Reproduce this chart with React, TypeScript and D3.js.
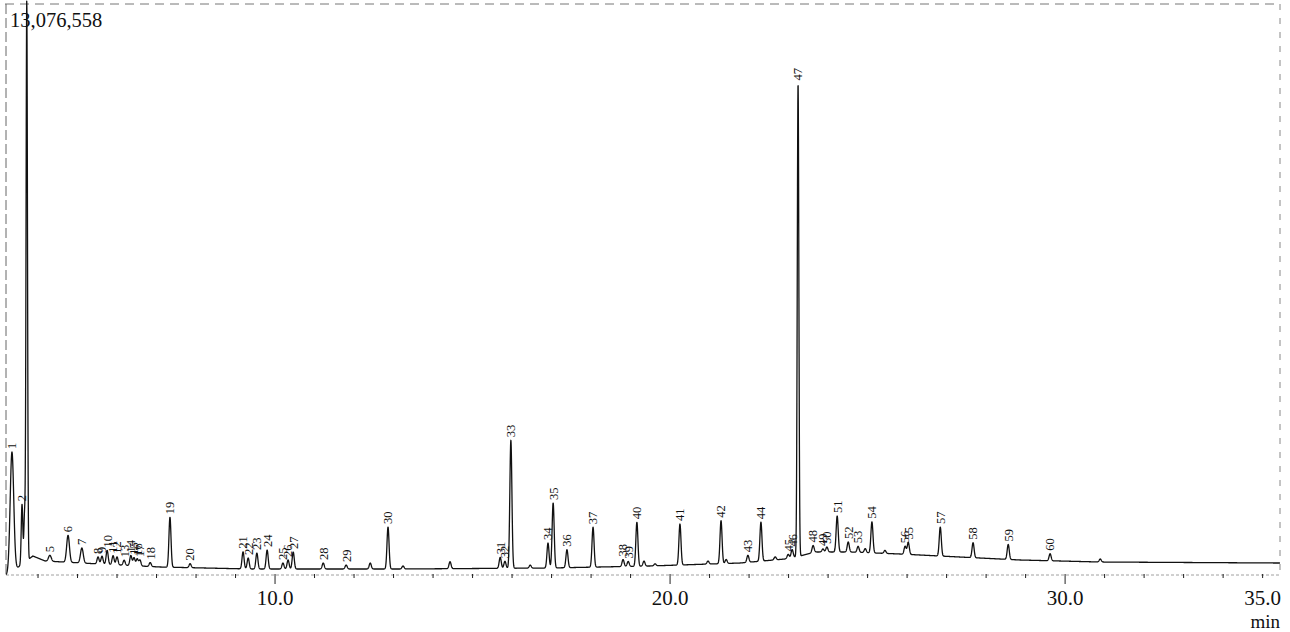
import React, { useEffect, useRef } from 'react';
import * as d3 from 'd3';

// retention time (min), height above baseline (counts)
const peakIds = ['1', '2', '5', '6', '7', '8', '9', '10', '11', '12', '13', '14', '15', '16', '17', '18', '19', '20',
  '21', '22', '23', '24', '25', '26', '27', '28', '29', '30', '31', '32', '33', '34', '35', '36', '37', '38', '39', '40',
  '41', '42', '43', '44', '45', '46', '47', '48', '49', '50', '51', '52', '53', '54', '55', '56', '57', '58', '59', '60'];
const peakTimes = [3.34, 3.595, 4.30, 4.76, 5.11, 5.52, 5.62, 5.75, 5.90, 6.00, 6.18, 6.35, 6.43, 6.51, 6.58, 6.84, 7.34, 7.85,
  9.19, 9.32, 9.54, 9.80, 10.20, 10.33, 10.46, 11.22, 11.80, 12.86, 15.70, 15.82, 15.97, 16.91, 17.04, 17.39, 18.05, 18.81, 18.94, 19.16,
  20.25, 21.29, 21.97, 22.30, 22.99, 23.09, 23.24, 23.62, 23.87, 23.97, 24.23, 24.51, 24.76, 25.11, 26.03, 25.95, 26.84, 27.67, 28.56, 29.62];
const peakHeights = [2743000, 1372000, 137000, 617000, 343000, 160000, 183000, 320000, 206000, 183000, 114000, 229000, 183000, 160000, 137000, 91000, 1143000, 91000,
  389000, 251000, 366000, 434000, 137000, 206000, 389000, 137000, 91000, 960000, 251000, 160000, 2926000, 572000, 1486000, 411000, 914000, 160000, 114000, 1006000,
  937000, 983000, 160000, 892000, 91000, 183000, 10813000, 160000, 69000, 114000, 823000, 229000, 137000, 709000, 274000, 183000, 663000, 343000, 343000, 160000];

// unlabeled peaks (solvent front and small bumps)
const extraTimes = [3.66, 3.715, 12.41, 13.24, 14.43, 16.46, 19.34, 19.62, 20.96, 21.42, 22.66, 24.94, 25.44, 30.89];
const extraHeights = [1097000, 12802000, 137000, 69000, 160000, 69000, 114000, 46000, 69000, 91000, 69000, 91000, 69000, 69000];

// drifting baseline
const baseTimes = [3.19, 3.34, 3.87, 4.18, 5.57, 7.09, 9.37, 13.16, 16.96, 19.49, 21.77, 22.91, 23.29, 23.67, 24.56, 25.82, 27.34, 28.86, 30.89, 35.44];
const baseLevels = [0, 69000, 434000, 320000, 251000, 183000, 137000, 137000, 160000, 206000, 274000, 366000, 434000, 526000, 526000, 480000, 411000, 343000, 297000, 274000];

const tickLabels = ['10.0', '20.0', '30.0', '35.0'];
const fullScale = '13,076,558';

const width = (t) => {
  if (t < 3.5) return 0.045;
  if (t < 3.64) return 0.02;
  if (t < 3.9) return 0.018;
  if (t < 5.3) return 0.035;
  if (t > 23.2 && t < 23.3) return 0.02;
  return 0.026;
};

const App = () => {
  const svgRef = useRef();

  useEffect(() => {
    const svg = d3.select(svgRef.current);
    svg.selectAll('*').remove();

    const x = d3.scaleLinear().domain([3.24, 35.44]).range([8, 1280]);
    const y = d3.scaleLinear().domain([0, 13076558]).range([575, 3]);
    const baseline = d3.scaleLinear().domain(baseTimes).range(baseLevels).clamp(true);

    const peaks = peakTimes.map((t, i) => ({ t, h: peakHeights[i], id: peakIds[i] }))
      .concat(extraTimes.map((t, i) => ({ t, h: extraHeights[i], id: '' })));

    const signal = (t) => {
      let v = baseline(t);
      peaks.forEach(p => {
        const s = width(p.t);
        const d = (t - p.t) / s;
        if (Math.abs(d) < 8) v += p.h * Math.exp(-0.5 * d * d);
      });
      return v;
    };

    const pts = d3.range(3.19, 35.44, 0.004).map(t => [t, signal(t)]);

    svg.append('defs').append('clipPath').attr('id', 'plotclip')
      .append('rect').attr('x', 0).attr('y', 0).attr('width', 1290).attr('height', 580);

    // frame (scanned, dashed)
    svg.append('line').attr('x1', 5).attr('x2', 1280).attr('y1', 4).attr('y2', 4)
      .attr('stroke', '#777').attr('stroke-width', 1).attr('stroke-dasharray', '9,6');
    svg.append('line').attr('x1', 6).attr('x2', 6).attr('y1', 4).attr('y2', 577)
      .attr('stroke', '#666').attr('stroke-width', 1).attr('stroke-dasharray', '10,4');
    svg.append('line').attr('x1', 1280).attr('x2', 1280).attr('y1', 4).attr('y2', 575)
      .attr('stroke', '#888').attr('stroke-width', 1).attr('stroke-dasharray', '6,8');

    // x axis
    svg.append('line').attr('x1', 6).attr('x2', 1280).attr('y1', 575).attr('y2', 575)
      .attr('stroke', '#888').attr('stroke-width', 0.8).attr('stroke-dasharray', '3,2');
    const minor = d3.range(4, 36, 1);
    svg.append('g').selectAll('line').data(minor).join('line')
      .attr('x1', d => x(d)).attr('x2', d => x(d))
      .attr('y1', 574).attr('y2', d => (d % 10 === 0 ? 584 : 578))
      .attr('stroke', '#222').attr('stroke-width', 1);
    svg.append('g').selectAll('text').data(tickLabels).join('text')
      .attr('x', d => x(+d)).attr('y', 605)
      .attr('text-anchor', 'middle')
      .attr('font-family', '"Liberation Serif", serif').attr('font-size', 21)
      .attr('fill', '#111')
      .text(d => d);
    svg.append('text').attr('x', 1280).attr('y', 628).attr('text-anchor', 'end')
      .attr('font-family', '"Liberation Serif", serif').attr('font-size', 19)
      .attr('fill', '#111').text('min');

    // trace
    const line = d3.line().x(d => x(d[0])).y(d => y(d[1]));
    svg.append('path').datum(pts)
      .attr('clip-path', 'url(#plotclip)')
      .attr('d', line)
      .attr('fill', 'none').attr('stroke', '#111').attr('stroke-width', 1.3)
      .attr('stroke-linejoin', 'round');

    // peak numbers
    const labeled = peaks.filter(p => p.id);
    svg.append('g').selectAll('text').data(labeled).join('text')
      .attr('transform', d => `translate(${x(d.t)},${y(baseline(d.t) + d.h) - 3}) rotate(-90)`)
      .attr('dy', '0.35em')
      .attr('font-family', '"Liberation Serif", serif').attr('font-size', 12.5)
      .attr('fill', '#111')
      .text(d => d.id);

    svg.append('text').attr('x', 10).attr('y', 27)
      .attr('font-family', '"Liberation Serif", serif').attr('font-size', 20.5)
      .attr('fill', '#111').text(fullScale);
  }, []);

  return <svg ref={svgRef} width="1290" height="632" style={{ position: 'absolute', left: 0, top: 0, background: '#fff' }}></svg>;
};

export default App;
